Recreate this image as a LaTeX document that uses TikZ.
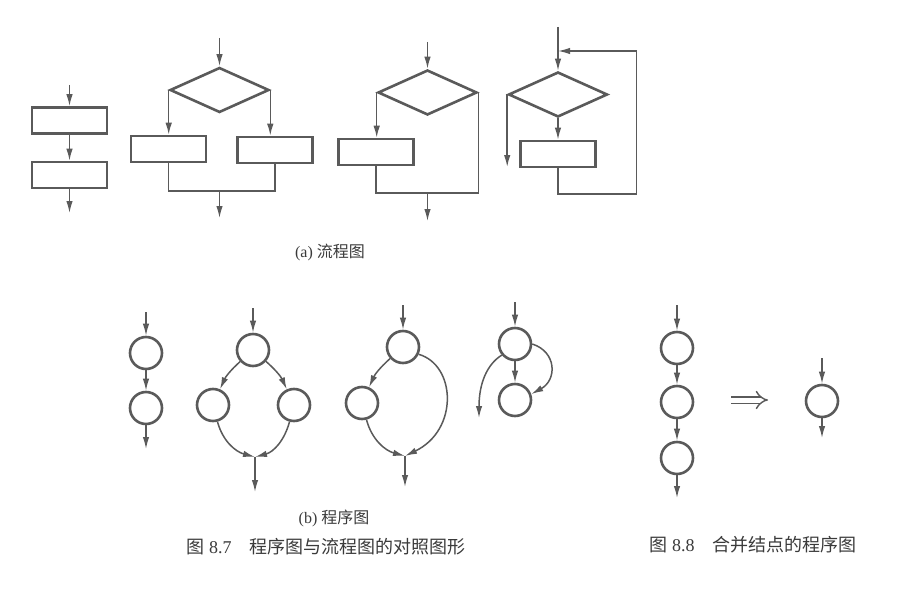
\documentclass[tikz,border=0pt]{standalone}
\usepackage{fontspec}
\setmainfont{Liberation Serif}
\newfontfamily\cjk{Noto Sans CJK SC}
\usetikzlibrary{arrows.meta,shapes.geometric}
\definecolor{ink}{HTML}{5A5A5A}
\definecolor{txt}{HTML}{3A3A3A}
\tikzset{
  box/.style={draw=ink,line width=2.6pt,rectangle,minimum width=75pt,minimum height=26pt,inner sep=0pt},
  dia/.style={draw=ink,line width=2.6pt,diamond,minimum width=99pt,minimum height=45pt,inner sep=0pt},
  nd/.style={draw=ink,line width=2.6pt,circle,minimum size=32pt,inner sep=0pt},
  con/.style={draw=ink,line width=1.5pt},
  arr/.style={con,-{Latex[length=12pt,width=6.5pt]}},
  captxt/.style={text=txt,inner sep=0pt,anchor=center}
}
\begin{document}
\begin{tikzpicture}[x=1pt,y=-1pt]
\useasboundingbox[fill=white] (0,0) rectangle (918,591);

% ---------- (a) flowcharts ----------
% sequence
\node[box] (s1) at (69.5,120.5) {};
\node[box] (s2) at (69.5,175) {};
\coordinate (s0) at (69.5,85);
\coordinate (s3) at (69.5,213);
\draw[arr] (s0) -- (s1.north);
\draw[arr] (s1.south) -- (s2.north);
\draw[arr] (s2.south) -- (s3);

% if-else
\node[dia] (d1) at (219.5,90) {};
\node[box] (r1) at (168.5,149) {};
\node[box] (r2) at (275,150) {};
\coordinate (i1) at (219.5,38);
\coordinate (m1) at (219.5,191);
\coordinate (o1) at (219.5,218);
\draw[arr] (i1) -- (d1.north);
\draw[arr] (d1.west) -- (d1.west |- r1.north);
\draw[arr] (d1.east) -- (d1.east |- r2.north);
\draw[con] (r1.south) |- (m1) -| (r2.south);
\draw[arr] (m1) -- (o1);

% if-then
\node[dia] (d2) at (427.5,92.5) {};
\node[box] (r3) at (376,152) {};
\coordinate (i2) at (427.5,42);
\coordinate (m2) at (427.5,193);
\coordinate (o2) at (427.5,221);
\draw[arr] (i2) -- (d2.north);
\draw[arr] (d2.west) -- (d2.west |- r3.north);
\draw[con] (r3.south) |- (d2.east |- m2) -- (d2.east);
\draw[arr] (m2) -- (o2);

% while loop
\node[dia] (d3) at (558,94.5) {};
\node[box] (r4) at (558,154) {};
\coordinate (i3) at (558,27);
\coordinate (l1) at (558,194);
\coordinate (l2) at (636.5,194);
\coordinate (l3) at (636.5,51);
\coordinate (l4) at (558,51);
\coordinate (x3) at (d3.west |- 0,167);
\draw[arr] (i3) -- (d3.north);
\draw[arr] (d3.south) -- (r4.north);
\draw[arr] (d3.west) -- (x3);
\draw[arr] (r4.south) -- (l1) -- (l2) -- (l3) -- (l4);

\node[captxt] (capa) at (330,252) {\fontsize{16pt}{18pt}\selectfont (a) {\cjk 流程图}};

% ---------- (b) program graphs ----------
% sequence
\node[nd] (a1) at (146,353) {};
\node[nd] (a2) at (146,408) {};
\coordinate (a0) at (146,312);
\coordinate (a3) at (146,449);
\draw[arr] (a0) -- (a1);
\draw[arr] (a1) -- (a2);
\draw[arr] (a2) -- (a3);

% if-else
\node[nd] (b1) at (253,350) {};
\node[nd] (b2) at (213,405) {};
\node[nd] (b3) at (294,405) {};
\coordinate (b0) at (253,308);
\coordinate (bm) at (255,457);
\coordinate (bo) at (255,492);
\draw[arr] (b0) -- (b1);
\draw[arr] (b1) to[bend right=12] (b2);
\draw[arr] (b1) to[bend left=12] (b3);
\draw[arr] (b2) to[out=-75,in=165] (bm);
\draw[arr] (b3) to[out=-105,in=15] (bm);
\draw[arr] (bm) -- (bo);

% if-then
\node[nd] (c1) at (403,347) {};
\node[nd] (c2) at (362,403) {};
\coordinate (c0) at (403,305);
\coordinate (cm) at (405,456);
\coordinate (co) at (405,487);
\draw[arr] (c0) -- (c1);
\draw[arr] (c1) to[bend right=12] (c2);
\draw[arr] (c2) to[out=-75,in=165] (cm);
\draw[arr] (c1.-25) .. controls (456,365) and (459,430) .. (cm);
\draw[arr] (cm) -- (co);

% loop
\node[nd] (e1) at (515,344) {};
\node[nd] (e2) at (515,400) {};
\coordinate (e0) at (515,302);
\coordinate (ex) at (479,418);
\draw[arr] (e0) -- (e1);
\draw[arr] (e1) -- (e2);
\draw[arr] (e1.east) .. controls (557,352) and (557,380) .. (e2.20);
\draw[arr] (e1.220) .. controls (486,365) and (479,385) .. (ex);

\node[captxt] (capb) at (334,518) {\fontsize{16pt}{18pt}\selectfont (b) {\cjk 程序图}};
\node[captxt] (cap7) at (326,547) {\fontsize{18pt}{20pt}\selectfont {\cjk 图} 8.7\hspace{1em}{\cjk 程序图与流程图的对照图形}};

% ---------- Fig 8.8 ----------
\node[nd] (f1) at (677,348) {};
\node[nd] (f2) at (677,402) {};
\node[nd] (f3) at (677,458) {};
\coordinate (f0) at (677,305);
\coordinate (f4) at (677,498);
\draw[arr] (f0) -- (f1);
\draw[arr] (f1) -- (f2);
\draw[arr] (f2) -- (f3);
\draw[arr] (f3) -- (f4);

\coordinate (q1) at (731,400);
\coordinate (q2) at (768,400);
\draw[draw=ink,line width=1.4pt,double,double distance=5pt,-{Implies[length=9pt]}] (q1) -- (q2);

\node[nd] (g1) at (822,401) {};
\coordinate (g0) at (822,358);
\coordinate (g2) at (822,438);
\draw[arr] (g0) -- (g1);
\draw[arr] (g1) -- (g2);

\node[captxt] (cap8) at (753,545) {\fontsize{18pt}{20pt}\selectfont {\cjk 图} 8.8\hspace{1em}{\cjk 合并结点的程序图}};
\end{tikzpicture}
\end{document}
